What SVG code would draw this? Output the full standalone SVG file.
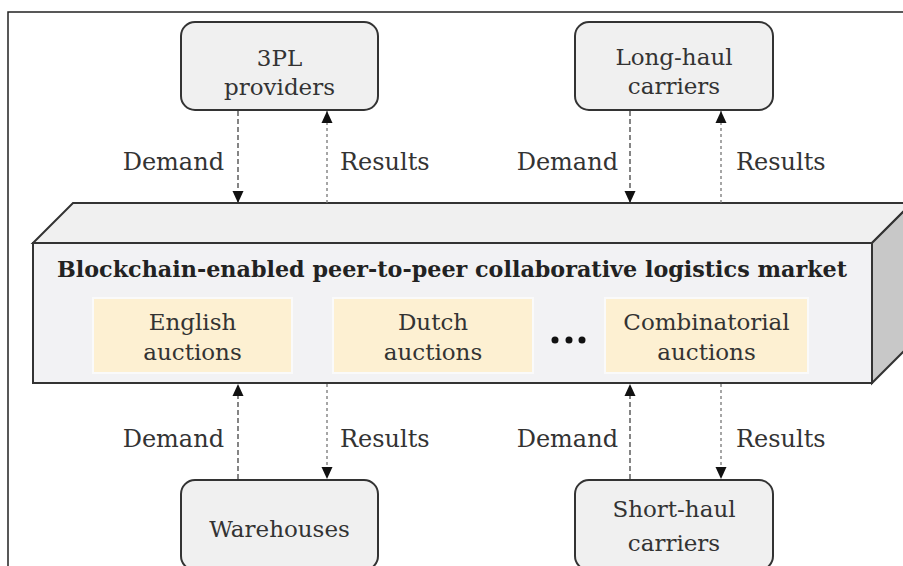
<svg xmlns="http://www.w3.org/2000/svg" width="903" height="566" viewBox="0 0 903 566">
<defs>
<style>
.node rect{fill:#f0f0f0;stroke:#333;stroke-width:2}
.t{font-family:"DejaVu Serif","Liberation Serif",serif;font-size:23px;fill:#333;text-anchor:middle}
.lbl{font-family:"DejaVu Serif","Liberation Serif",serif;font-size:24px;fill:#333}
.auc rect{fill:#fdf0d2;stroke:#fafafa;stroke-width:2}
.auc text{font-family:"DejaVu Serif","Liberation Serif",serif;font-size:23px;fill:#333;text-anchor:middle}
.dem{stroke:#444;stroke-width:1.3;stroke-dasharray:5 3;fill:none}
.res{stroke:#777;stroke-width:1.3;stroke-dasharray:3 3;fill:none}
</style>
<marker id="ah" viewBox="0 0 12 12" refX="12" refY="6" markerWidth="12" markerHeight="12" markerUnits="userSpaceOnUse" orient="auto">
<path d="M0,0.5 L12,6 L0,11.5 Z" fill="#111"/>
</marker>
</defs>
<rect width="903" height="566" fill="#fff"/>
<path d="M8,566 L8,12 L903,12" fill="none" stroke="#222" stroke-width="1.5"/>

<g id="market">
<polygon points="33,243 73,203 912,203 872,243" fill="#f0f0f0" stroke="#333" stroke-width="2"/>
<polygon points="872,243 912,203 912,343 872,383" fill="#c8c8c8" stroke="#333" stroke-width="2"/>
<rect x="33" y="243" width="839" height="140" fill="#f2f2f4" stroke="#333" stroke-width="2"/>
<text x="452" y="277" font-family="DejaVu Serif,Liberation Serif,serif" font-size="22" font-weight="bold" fill="#222" text-anchor="middle" textLength="790" lengthAdjust="spacingAndGlyphs">Blockchain-enabled peer-to-peer collaborative logistics market</text>
<g id="english" class="auc"><rect x="93" y="298" width="199" height="75"/><text x="192.5" y="330">English</text><text x="192.5" y="360">auctions</text></g>
<g id="dutch" class="auc"><rect x="333" y="298" width="200" height="75"/><text x="433" y="330">Dutch</text><text x="433" y="360">auctions</text></g>
<g id="combinatorial" class="auc"><rect x="605" y="298" width="203" height="75"/><text x="706.5" y="330">Combinatorial</text><text x="706.5" y="360">auctions</text></g>
<g id="ellipsis" fill="#111"><circle cx="555" cy="340" r="3.5"/><circle cx="569" cy="340" r="3.5"/><circle cx="582" cy="340" r="3.5"/></g>
</g>

<g id="threepl" class="node"><rect x="181" y="22" width="197" height="88" rx="14"/><text class="t" x="279.5" y="66">3PL</text><text class="t" x="279.5" y="95">providers</text></g>
<g id="longhaul" class="node"><rect x="575" y="22" width="198" height="88" rx="14"/><text class="t" x="674" y="65">Long-haul</text><text class="t" x="674" y="94">carriers</text></g>
<g id="warehouses" class="node"><rect x="181" y="480" width="197" height="90" rx="14"/><text class="t" x="279.5" y="537">Warehouses</text></g>
<g id="shorthaul" class="node"><rect x="575" y="480" width="198" height="90" rx="14"/><text class="t" x="674" y="517">Short-haul</text><text class="t" x="674" y="551">carriers</text></g>

<g id="connectors">
<line class="dem" x1="238" y1="111" x2="238" y2="203" marker-end="url(#ah)"/>
<line class="res" x1="327" y1="203" x2="327" y2="111" marker-end="url(#ah)"/>
<line class="dem" x1="630" y1="111" x2="630" y2="203" marker-end="url(#ah)"/>
<line class="res" x1="721" y1="203" x2="721" y2="111" marker-end="url(#ah)"/>
<line class="dem" x1="238" y1="479" x2="238" y2="384" marker-end="url(#ah)"/>
<line class="res" x1="327" y1="384" x2="327" y2="479" marker-end="url(#ah)"/>
<line class="dem" x1="630" y1="479" x2="630" y2="384" marker-end="url(#ah)"/>
<line class="res" x1="721" y1="384" x2="721" y2="479" marker-end="url(#ah)"/>
<text class="lbl" x="224" y="170" text-anchor="end">Demand</text>
<text class="lbl" x="340" y="170">Results</text>
<text class="lbl" x="618" y="170" text-anchor="end">Demand</text>
<text class="lbl" x="736" y="170">Results</text>
<text class="lbl" x="224" y="447" text-anchor="end">Demand</text>
<text class="lbl" x="340" y="447">Results</text>
<text class="lbl" x="618" y="447" text-anchor="end">Demand</text>
<text class="lbl" x="736" y="447">Results</text>
</g>
</svg>
